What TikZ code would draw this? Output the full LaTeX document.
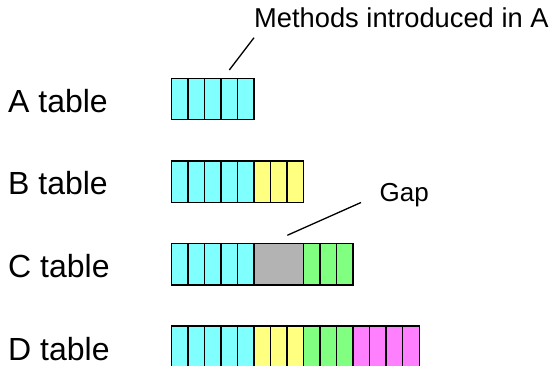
\documentclass[tikz,border=0pt]{standalone}
\usepackage{fontspec}
\setmainfont{Liberation Sans}
\usetikzlibrary{calc}
\definecolor{cyanc}{HTML}{80FFFF}
\definecolor{yelc}{HTML}{FFFF80}
\definecolor{grnc}{HTML}{80FF80}
\definecolor{magc}{HTML}{FF80FF}
\definecolor{gapc}{HTML}{B3B3B3}
\begin{document}
\begin{tikzpicture}[x=1pt,y=-1pt,
  cell/.style={draw=black, line width=1.5pt, minimum width=16.53pt, minimum height=41.3pt,
    inner sep=0pt, outer sep=0pt, anchor=north west},
  lbl/.style={anchor=base west, inner sep=0pt, font=\fontsize{32}{38}\selectfont},
  note/.style={anchor=base west, inner sep=0pt},
  leader/.style={draw=black, line width=1.3pt}]
\useasboundingbox (0,0) rectangle (554,366);
\def\xo{171.3}
\def\cw{16.53}
% row labels
\node[lbl] (la) at (8,112.7) {A table};
\node[lbl] (lb) at (8,195.0) {B table};
\node[lbl] (lc) at (8,277.6) {C table};
\node[lbl] (ld) at (8,360.2) {D table};
% A row
\foreach \i in {1,...,5} \node[cell,fill=cyanc] (a\i) at ({\xo+(\i-1)*\cw},78.3) {};
% B row
\foreach \i in {1,...,5} \node[cell,fill=cyanc] (b\i) at ({\xo+(\i-1)*\cw},161) {};
\foreach \i in {6,...,8} \node[cell,fill=yelc] (b\i) at ({\xo+(\i-1)*\cw},161) {};
% C row
\foreach \i in {1,...,5} \node[cell,fill=cyanc] (c\i) at ({\xo+(\i-1)*\cw},243.7) {};
\node[cell,fill=gapc,minimum width=49.59pt] (cgap) at ({\xo+5*\cw},243.7) {};
\foreach \i in {9,...,11} \node[cell,fill=grnc] (c\i) at ({\xo+(\i-1)*\cw},243.7) {};
% D row
\foreach \i in {1,...,5} \node[cell,fill=cyanc] (d\i) at ({\xo+(\i-1)*\cw},326) {};
\foreach \i in {6,...,8} \node[cell,fill=yelc] (d\i) at ({\xo+(\i-1)*\cw},326) {};
\foreach \i in {9,...,11} \node[cell,fill=grnc] (d\i) at ({\xo+(\i-1)*\cw},326) {};
\foreach \i in {12,...,15} \node[cell,fill=magc] (d\i) at ({\xo+(\i-1)*\cw},326) {};
% annotations
\node[note,font=\fontsize{27.3}{32}\selectfont] (methods) at (254,28) {Methods introduced in A};
\node[note,font=\fontsize{26}{31}\selectfont] (gap) at (379.5,201.5) {Gap};
\coordinate (mtail) at ($(methods.base west)+(0,9.7)$);
\coordinate (mhead) at (229.3,70);
\draw[leader] (mtail) -- (mhead);
\coordinate (gtail) at ($(gap.base west)+(-18.5,1)$);
\coordinate (ghead) at (287.3,235.3);
\draw[leader] (gtail) -- (ghead);
\end{tikzpicture}
\end{document}
